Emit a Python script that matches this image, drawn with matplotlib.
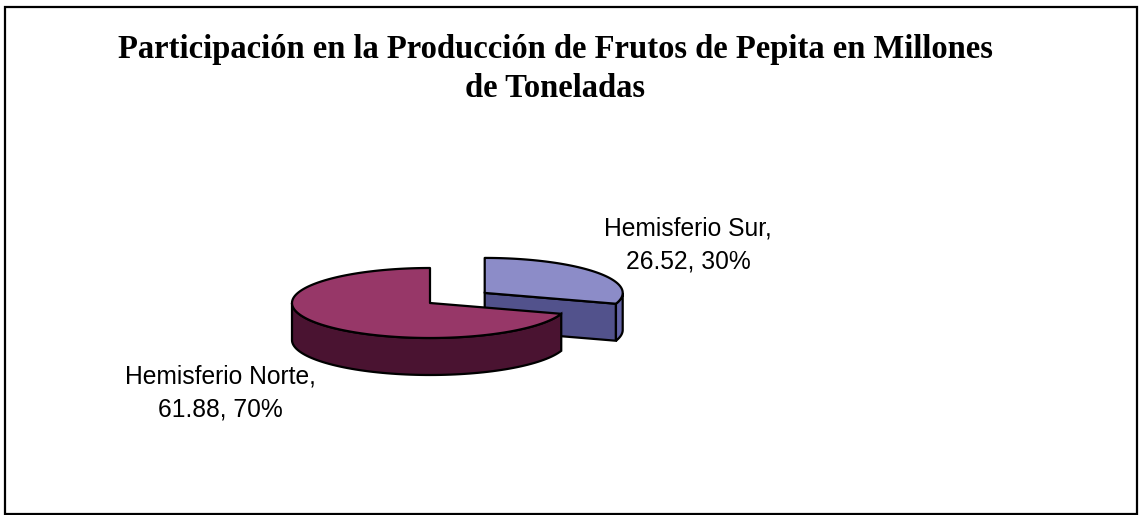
import numpy as np
import matplotlib.pyplot as plt
from matplotlib.patches import Polygon, Rectangle

# data
categories = ["Hemisferio Sur", "Hemisferio Norte"]
values = [26.52, 61.88]
top_colors = ["#8C8CC8", "#973768"]
side_colors = ["#52528C", "#4A1331"]
wall_colors = ["#6464A6", "#4A1331"]
explode = [0.49, 0.0]

title = "Participación en la Producción de Frutos de Pepita en Millones\nde Toneladas"

# pie geometry in pixel space
cx, cy = 430, 303
a, b = 138, 35
depth = 37
start = 90.0

fig = plt.figure(figsize=(11.42, 5.15), dpi=100)
ax = fig.add_axes([0, 0, 1, 1])
ax.set_xlim(0, 1142)
ax.set_ylim(515, 0)
ax.axis("off")

ax.add_patch(Rectangle((5, 7), 1132, 507, fill=False, edgecolor="black", lw=1.6))


def rim(x0, y0, t1, t2, dz=0.0, n=80):
    t = np.radians(np.linspace(t1, t2, n))
    return np.column_stack([x0 + a * np.cos(t), y0 - b * np.sin(t) + dz])


total = sum(values)
fracs = [v / total for v in values]
# slices go clockwise from 12 o'clock
angles = []
cur = start
for f in fracs:
    angles.append((cur - 360 * f, cur))
    cur -= 360 * f

ec = "black"
lw = 1.6
for i, (t1, t2) in enumerate(angles):
    mid = np.radians((t1 + t2) / 2)
    x0 = cx + explode[i] * a * np.cos(mid)
    y0 = cy - explode[i] * b * np.sin(mid)
    # cut faces turned toward the viewer
    for t, nrm in [(t1, t1 - 90), (t2, t2 + 90)]:
        if np.sin(np.radians(nrm)) < -1e-6:
            p = rim(x0, y0, t, t, n=1)[0]
            face = [(x0, y0), tuple(p), (p[0], p[1] + depth), (x0, y0 + depth)]
            ax.add_patch(Polygon(face, closed=True, fc=side_colors[i], ec=ec, lw=lw, zorder=2 + 3 * i))
    # outer wall, front half only
    segs = []
    for k in range(-1, 2):
        s1, s2 = 180 + 360 * k, 360 + 360 * k
        l, h = max(t1, s1), min(t2, s2)
        if h > l:
            segs.append((l, h))
    for l, h in segs:
        topr = rim(x0, y0, l, h)
        botr = rim(x0, y0, h, l, dz=depth)
        ax.add_patch(Polygon(np.vstack([topr, botr]), closed=True, fc=wall_colors[i], ec=ec, lw=lw, zorder=3 + 3 * i))
    # top face
    pts = np.vstack([[x0, y0], rim(x0, y0, t1, t2, n=200)])
    ax.add_patch(Polygon(pts, closed=True, fc=top_colors[i], ec=ec, lw=lw, zorder=4 + 3 * i, joinstyle="round"))

label_pos = [(688, 245), (220, 393)]
for i, name in enumerate(categories):
    txt = f"{name},\n{values[i]:.2f}, {fracs[i] * 100:.0f}%"
    ax.text(label_pos[i][0], label_pos[i][1], txt, ha="center", va="center",
            fontsize=17.7, family="Liberation Sans", linespacing=1.45)

ax.text(555, 69, title, ha="center", va="center", fontsize=23.5, fontweight="bold",
        family="Liberation Serif", linespacing=1.34)

fig.savefig("out.png", dpi=100)
